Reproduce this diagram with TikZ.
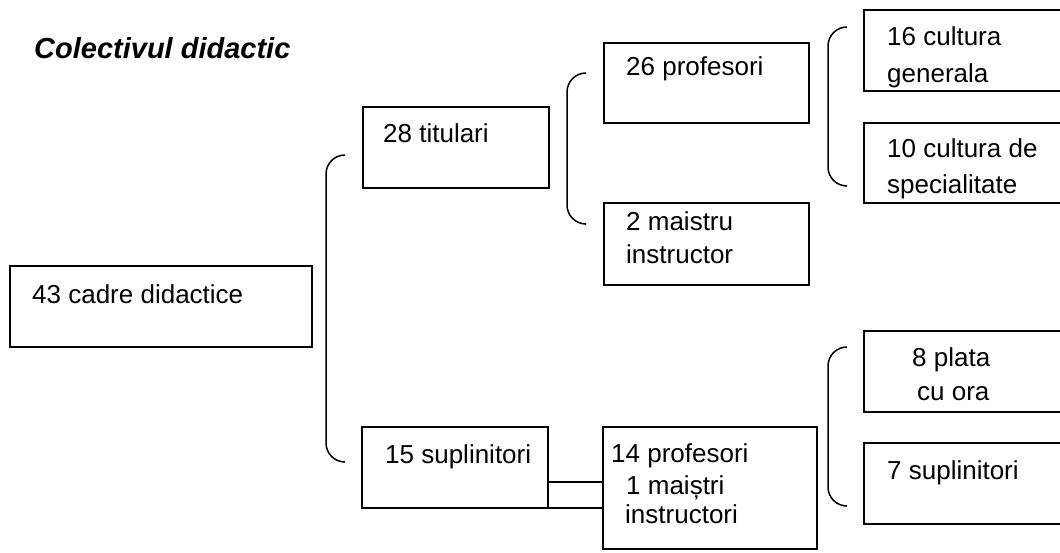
\documentclass[tikz,border=0pt]{standalone}
\usepackage{fontspec}
\setmainfont{Liberation Sans}
\begin{document}
\begin{tikzpicture}[x=1pt,y=-1pt,
  box/.style={draw, line width=1.5pt, inner sep=0pt, outer sep=0pt},
  txt/.style={anchor=base west, inner sep=0pt, font=\fontsize{26}{30}\selectfont},
  brk/.style={line width=1.5pt, rounded corners=19pt}]
\useasboundingbox (0,0) rectangle (1060,552);
\clip (0,0) rectangle (1060,552);
\fill[white] (0,0) rectangle (1060,552);
% title
\node[anchor=base west, inner sep=0pt, font=\fontsize{29}{34}\selectfont\bfseries\itshape] (title) at (34,58) {Colectivul didactic};
% boxes
\node[box, minimum width=302pt, minimum height=81pt] (A) at (161,306.5) {};
\node[box, minimum width=186pt, minimum height=81pt] (B) at (456,147.5) {};
\node[box, minimum width=186pt, minimum height=81pt] (C) at (455,467.5) {};
\node[box, minimum width=214pt, minimum height=122pt] (D) at (710,488) {};
\node[box, minimum width=205pt, minimum height=80pt] (E) at (706.5,83) {};
\node[box, minimum width=205pt, minimum height=82pt] (F) at (706.5,244) {};
\node[box, minimum width=220pt, minimum height=81pt] (G) at (974,50.5) {};
\node[box, minimum width=220pt, minimum height=80pt] (H) at (974,163) {};
\node[box, minimum width=220pt, minimum height=81pt] (I) at (974,371.5) {};
\node[box, minimum width=220pt, minimum height=81pt] (J) at (974,483.5) {};
% texts
\node[txt] (tA) at (32,303) {43 cadre didactice};
\node[txt] (tB) at (383,142) {28 titulari};
\node[txt] (tC) at (385,463) {15 suplinitori};
\node[txt] (tD1) at (611,462) {14 profesori};
\node[txt] (tD2) at (626,494) {1 maiștri};
\node[txt] (tD3) at (625,523) {instructori};
\node[txt] (tE) at (626,75) {26 profesori};
\node[txt] (tF1) at (626,230) {2 maistru};
\node[txt] (tF2) at (626,263) {instructor};
\node[txt] (tG1) at (887,45) {16 cultura};
\node[txt] (tG2) at (887,82) {generala};
\node[txt] (tH1) at (887,157) {10 cultura de};
\node[txt] (tH2) at (887,193) {specialitate};
\node[txt] (tI1) at (912,366) {8 plata};
\node[txt] (tI2) at (917,400) {cu ora};
\node[txt] (tJ) at (887,479) {7 suplinitori};
% connector C -- D
\coordinate (k) at (0,482);
\draw[line width=1.5pt] (C.east |- k) -- (D.west |- k);
\draw[line width=1.5pt] (C.south east) -- (D.west |- C.south east);
% brackets
\draw[brk] (345,155) -- (326,155) -- (326,462) -- (345,462);
\draw[brk] (585,73) -- (567,73) -- (567,224) -- (585,224);
\draw[brk] (847,27) -- (828,27) -- (828,186) -- (847,186);
\draw[brk] (847,347) -- (828,347) -- (828,506) -- (847,506);
\end{tikzpicture}
\end{document}
